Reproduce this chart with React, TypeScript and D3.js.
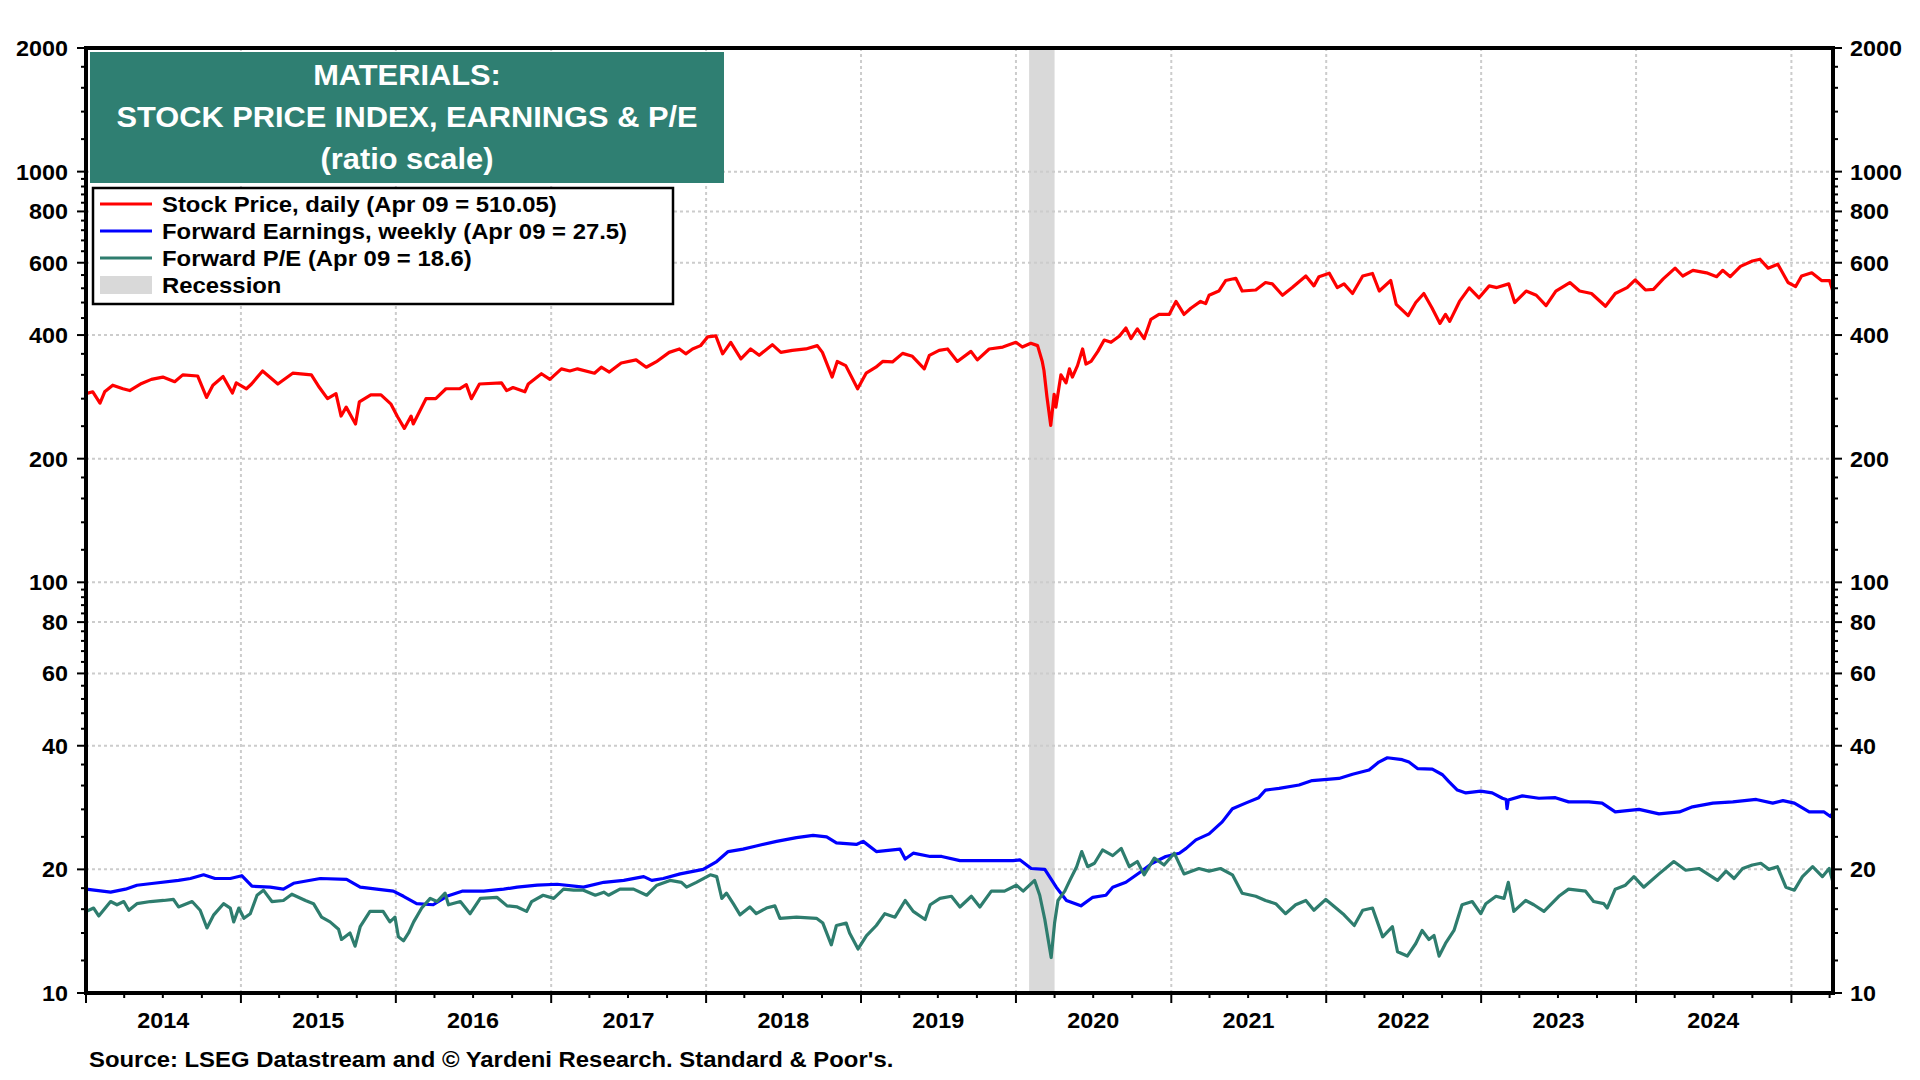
import * as d3 from "d3";
import type { ReactNode } from "react";

const stockPrice: [string, number][] = [
  ["2014-01-01", 288], ["2014-01-17", 291], ["2014-02-03", 273], ["2014-02-14", 291], ["2014-03-05", 302],
  ["2014-03-29", 296], ["2014-04-14", 293], ["2014-05-12", 305], ["2014-06-04", 312], ["2014-07-01", 316],
  ["2014-07-29", 308], ["2014-08-17", 320], ["2014-09-21", 318], ["2014-10-12", 282], ["2014-10-27", 302],
  ["2014-11-20", 317], ["2014-12-12", 289], ["2014-12-21", 306], ["2015-01-14", 296], ["2015-01-26", 304],
  ["2015-02-21", 327], ["2015-03-29", 304], ["2015-05-03", 323], ["2015-06-16", 320], ["2015-07-05", 298],
  ["2015-07-24", 280], ["2015-08-13", 288], ["2015-08-25", 254], ["2015-09-06", 267], ["2015-09-28", 243],
  ["2015-10-07", 275], ["2015-11-03", 286], ["2015-11-27", 286], ["2015-12-20", 272], ["2016-01-05", 253],
  ["2016-01-21", 237], ["2016-02-06", 254], ["2016-02-11", 243], ["2016-03-12", 280], ["2016-04-04", 280],
  ["2016-04-28", 296], ["2016-05-30", 296], ["2016-06-15", 303], ["2016-06-27", 280], ["2016-07-16", 304],
  ["2016-09-06", 306], ["2016-09-18", 293], ["2016-10-03", 298], ["2016-10-31", 291], ["2016-11-08", 304],
  ["2016-12-09", 322], ["2016-12-29", 312], ["2017-01-25", 331], ["2017-02-14", 327], ["2017-03-04", 331],
  ["2017-04-13", 323], ["2017-04-29", 334], ["2017-05-18", 325], ["2017-06-15", 342], ["2017-07-20", 348],
  ["2017-08-13", 334], ["2017-09-05", 344], ["2017-10-06", 363], ["2017-10-30", 370], ["2017-11-14", 360],
  ["2017-11-30", 370], ["2017-12-19", 377], ["2018-01-05", 396], ["2018-01-24", 398], ["2018-02-09", 360],
  ["2018-02-28", 384], ["2018-03-24", 350], ["2018-04-16", 370], ["2018-05-06", 357], ["2018-06-06", 379],
  ["2018-06-26", 363], ["2018-07-23", 367], ["2018-08-24", 370], ["2018-09-20", 377], ["2018-10-02", 363],
  ["2018-10-25", 316], ["2018-11-06", 345], ["2018-11-26", 337], ["2018-12-24", 296], ["2019-01-13", 323],
  ["2019-02-05", 334], ["2019-02-21", 345], ["2019-03-16", 344], ["2019-04-09", 361], ["2019-05-02", 355],
  ["2019-05-30", 331], ["2019-06-11", 357], ["2019-07-04", 367], ["2019-07-24", 370], ["2019-08-16", 345],
  ["2019-09-17", 365], ["2019-10-02", 348], ["2019-10-30", 370], ["2019-12-01", 374], ["2020-01-01", 384],
  ["2020-01-16", 374], ["2020-02-05", 382], ["2020-02-21", 377], ["2020-03-03", 345], ["2020-03-07", 328],
  ["2020-03-14", 283], ["2020-03-23", 241], ["2020-03-31", 287], ["2020-04-04", 267], ["2020-04-16", 320],
  ["2020-04-28", 306], ["2020-05-06", 331], ["2020-05-13", 316], ["2020-05-25", 337], ["2020-06-06", 370],
  ["2020-06-14", 340], ["2020-06-26", 345], ["2020-07-12", 365], ["2020-07-27", 389], ["2020-08-12", 384],
  ["2020-09-01", 398], ["2020-09-16", 416], ["2020-09-28", 392], ["2020-10-13", 414], ["2020-10-29", 392],
  ["2020-11-14", 437], ["2020-12-03", 449], ["2020-12-27", 449], ["2021-01-12", 483], ["2021-01-31", 449],
  ["2021-02-16", 465], ["2021-03-11", 483], ["2021-03-23", 477], ["2021-03-31", 500], ["2021-04-23", 512],
  ["2021-05-09", 543], ["2021-06-02", 550], ["2021-06-17", 512], ["2021-07-19", 515], ["2021-08-11", 537],
  ["2021-08-27", 533], ["2021-09-20", 500], ["2021-10-13", 522], ["2021-11-14", 557], ["2021-12-03", 527],
  ["2021-12-15", 555], ["2022-01-08", 566], ["2022-01-27", 522], ["2022-02-12", 533], ["2022-03-04", 505],
  ["2022-03-28", 557], ["2022-04-20", 565], ["2022-05-06", 512], ["2022-06-02", 543], ["2022-06-15", 475],
  ["2022-07-13", 446], ["2022-07-31", 480], ["2022-08-19", 505], ["2022-09-07", 466], ["2022-09-26", 427],
  ["2022-10-09", 449], ["2022-10-19", 432], ["2022-11-11", 483], ["2022-12-04", 521], ["2022-12-27", 493],
  ["2023-01-20", 527], ["2023-02-07", 522], ["2023-03-07", 533], ["2023-03-21", 480], ["2023-04-17", 512],
  ["2023-05-11", 500], ["2023-06-03", 472], ["2023-06-26", 512], ["2023-07-29", 537], ["2023-08-21", 512],
  ["2023-09-18", 505], ["2023-10-21", 470], ["2023-11-13", 505], ["2023-12-11", 522], ["2023-12-30", 545],
  ["2024-01-23", 515], ["2024-02-11", 517], ["2024-03-05", 548], ["2024-04-02", 582], ["2024-04-20", 557],
  ["2024-05-14", 575], ["2024-06-15", 567], ["2024-07-09", 555], ["2024-07-23", 575], ["2024-08-10", 555],
  ["2024-09-03", 588], ["2024-10-01", 606], ["2024-10-19", 612], ["2024-11-07", 582], ["2024-11-30", 595],
  ["2024-12-24", 537], ["2025-01-11", 525], ["2025-01-25", 557], ["2025-02-18", 567], ["2025-03-13", 543],
  ["2025-04-01", 543], ["2025-04-09", 510.05],
];

const forwardEarnings: [string, number][] = [
  ["2014-01-01", 17.9], ["2014-02-28", 17.6], ["2014-04-04", 17.9], ["2014-05-01", 18.3], ["2014-06-10", 18.5],
  ["2014-08-07", 18.8], ["2014-09-04", 19.0], ["2014-10-05", 19.4], ["2014-11-01", 19.0], ["2014-12-07", 19.0],
  ["2015-01-03", 19.3], ["2015-01-27", 18.2], ["2015-03-11", 18.1], ["2015-04-11", 17.9], ["2015-05-05", 18.5],
  ["2015-07-07", 19.0], ["2015-09-07", 18.9], ["2015-10-09", 18.1], ["2015-11-17", 17.9], ["2015-12-26", 17.7],
  ["2016-01-19", 17.2], ["2016-02-19", 16.5], ["2016-03-29", 16.4], ["2016-04-30", 17.2], ["2016-06-05", 17.7],
  ["2016-07-26", 17.7], ["2016-09-11", 17.9], ["2016-10-13", 18.1], ["2016-11-29", 18.3], ["2017-01-15", 18.4],
  ["2017-03-18", 18.1], ["2017-05-05", 18.6], ["2017-06-21", 18.8], ["2017-08-07", 19.2], ["2017-08-26", 18.8],
  ["2017-09-22", 19.0], ["2017-11-01", 19.5], ["2017-12-25", 20.0], ["2018-01-26", 20.9], ["2018-02-22", 22.1],
  ["2018-03-29", 22.4], ["2018-04-29", 22.8], ["2018-06-16", 23.4], ["2018-08-02", 23.9], ["2018-09-10", 24.2],
  ["2018-10-12", 24.0], ["2018-11-04", 23.2], ["2018-12-21", 23.0], ["2019-01-06", 23.4], ["2019-02-06", 22.1],
  ["2019-04-03", 22.4], ["2019-04-15", 21.2], ["2019-05-04", 21.9], ["2019-06-13", 21.5], ["2019-07-10", 21.5],
  ["2019-08-22", 21.0], ["2019-10-16", 21.0], ["2019-12-25", 21.0], ["2020-01-10", 21.1], ["2020-02-06", 20.1],
  ["2020-03-09", 20.0], ["2020-04-05", 18.1], ["2020-04-29", 16.8], ["2020-06-02", 16.3], ["2020-06-30", 17.1],
  ["2020-07-31", 17.3], ["2020-08-16", 18.1], ["2020-09-16", 18.6], ["2020-10-17", 19.6], ["2020-11-17", 20.7],
  ["2020-12-19", 21.5], ["2021-01-20", 21.9], ["2021-02-05", 22.5], ["2021-02-28", 23.6], ["2021-03-31", 24.4],
  ["2021-05-01", 26.1], ["2021-05-25", 28.1], ["2021-06-25", 29.0], ["2021-07-26", 29.9], ["2021-08-11", 31.2],
  ["2021-09-12", 31.5], ["2021-10-29", 32.1], ["2021-11-29", 32.9], ["2022-01-31", 33.3], ["2022-03-04", 34.1],
  ["2022-04-12", 34.9], ["2022-05-05", 36.5], ["2022-05-25", 37.4], ["2022-06-29", 37.0], ["2022-07-15", 36.5],
  ["2022-08-04", 35.2], ["2022-09-08", 35.1], ["2022-10-02", 34.0], ["2022-10-17", 32.7], ["2022-11-06", 31.2],
  ["2022-11-26", 30.7], ["2022-12-31", 31.0], ["2023-01-27", 30.7], ["2023-02-20", 29.8], ["2023-03-01", 29.6],
  ["2023-03-03", 28.1], ["2023-03-06", 29.5], ["2023-04-08", 30.2], ["2023-05-17", 29.8], ["2023-06-25", 29.9],
  ["2023-07-26", 29.2], ["2023-09-12", 29.2], ["2023-10-13", 29.0], ["2023-11-13", 27.6], ["2024-01-08", 28.0],
  ["2024-02-24", 27.3], ["2024-04-12", 27.6], ["2024-05-13", 28.4], ["2024-06-30", 29.0], ["2024-08-16", 29.2],
  ["2024-10-10", 29.6], ["2024-11-18", 29.0], ["2024-12-12", 29.4], ["2025-01-08", 29.0], ["2025-02-12", 27.6],
  ["2025-03-19", 27.6], ["2025-04-03", 26.9], ["2025-04-09", 27.5],
];

const forwardPE: [string, number][] = [
  ["2014-01-01", 15.8], ["2014-01-19", 16.1], ["2014-01-31", 15.4], ["2014-02-28", 16.7], ["2014-03-15", 16.4],
  ["2014-03-31", 16.7], ["2014-04-12", 15.9], ["2014-05-01", 16.5], ["2014-06-02", 16.7], ["2014-07-03", 16.8],
  ["2014-07-26", 16.9], ["2014-08-07", 16.2], ["2014-09-08", 16.7], ["2014-09-27", 15.9], ["2014-10-13", 14.4],
  ["2014-10-29", 15.5], ["2014-11-21", 16.5], ["2014-12-07", 16.1], ["2014-12-15", 14.9], ["2014-12-27", 16.1],
  ["2015-01-08", 15.2], ["2015-01-23", 15.6], ["2015-02-08", 17.3], ["2015-02-23", 17.8], ["2015-03-15", 16.7],
  ["2015-04-11", 16.8], ["2015-05-01", 17.4], ["2015-06-02", 16.8], ["2015-06-21", 16.5], ["2015-07-10", 15.3],
  ["2015-07-30", 14.9], ["2015-08-19", 14.3], ["2015-08-26", 13.5], ["2015-09-15", 14.0], ["2015-09-27", 13.0],
  ["2015-10-09", 14.5], ["2015-11-01", 15.8], ["2015-12-02", 15.8], ["2015-12-18", 14.9], ["2015-12-30", 15.3],
  ["2016-01-07", 13.7], ["2016-01-19", 13.4], ["2016-01-31", 14.0], ["2016-02-12", 14.9], ["2016-03-02", 16.1],
  ["2016-03-22", 17.0], ["2016-04-07", 16.7], ["2016-04-26", 17.5], ["2016-05-04", 16.4], ["2016-06-01", 16.7],
  ["2016-06-24", 15.6], ["2016-07-18", 17.0], ["2016-08-26", 17.1], ["2016-09-19", 16.3], ["2016-10-13", 16.2],
  ["2016-11-04", 15.8], ["2016-11-16", 16.7], ["2016-12-13", 17.3], ["2017-01-07", 17.0], ["2017-01-30", 17.9],
  ["2017-02-23", 17.8], ["2017-03-18", 17.8], ["2017-04-15", 17.3], ["2017-05-05", 17.6], ["2017-05-16", 17.3],
  ["2017-06-12", 17.9], ["2017-07-14", 17.9], ["2017-08-14", 17.3], ["2017-09-07", 18.3], ["2017-10-08", 18.8],
  ["2017-11-04", 18.6], ["2017-11-16", 18.1], ["2017-12-09", 18.6], ["2018-01-11", 19.4], ["2018-01-26", 19.2],
  ["2018-02-07", 17.0], ["2018-02-18", 17.5], ["2018-03-06", 16.5], ["2018-03-22", 15.5], ["2018-04-14", 16.2],
  ["2018-04-29", 15.6], ["2018-05-23", 16.1], ["2018-06-12", 16.3], ["2018-06-24", 15.2], ["2018-08-02", 15.3],
  ["2018-09-18", 15.2], ["2018-10-03", 14.8], ["2018-10-23", 13.1], ["2018-11-04", 14.6], ["2018-11-27", 14.8],
  ["2018-12-05", 14.0], ["2018-12-25", 12.8], ["2019-01-14", 13.8], ["2019-02-06", 14.6], ["2019-02-26", 15.6],
  ["2019-03-22", 15.3], ["2019-04-15", 16.8], ["2019-05-04", 15.8], ["2019-06-01", 15.1], ["2019-06-13", 16.4],
  ["2019-07-06", 17.0], ["2019-08-02", 17.2], ["2019-08-22", 16.2], ["2019-09-18", 17.2], ["2019-10-08", 16.2],
  ["2019-11-04", 17.7], ["2019-12-05", 17.7], ["2020-01-02", 18.3], ["2020-01-18", 17.7], ["2020-02-14", 18.8],
  ["2020-02-26", 17.3], ["2020-03-09", 15.1], ["2020-03-24", 12.2], ["2020-04-01", 14.8], ["2020-04-09", 16.8],
  ["2020-04-25", 17.7], ["2020-05-07", 18.8], ["2020-05-23", 20.3], ["2020-06-04", 22.1], ["2020-06-18", 20.3],
  ["2020-07-04", 20.7], ["2020-07-23", 22.3], ["2020-08-16", 21.6], ["2020-09-05", 22.5], ["2020-09-24", 20.3],
  ["2020-10-13", 20.9], ["2020-10-29", 19.4], ["2020-11-22", 21.3], ["2020-12-15", 20.5], ["2021-01-08", 21.9],
  ["2021-01-31", 19.5], ["2021-03-07", 20.1], ["2021-03-31", 19.8], ["2021-04-27", 20.1], ["2021-05-25", 19.4],
  ["2021-06-17", 17.5], ["2021-07-19", 17.2], ["2021-08-11", 16.8], ["2021-09-04", 16.5], ["2021-09-27", 15.6],
  ["2021-10-21", 16.4], ["2021-11-14", 16.8], ["2021-12-03", 15.9], ["2021-12-31", 16.9], ["2022-01-24", 16.1],
  ["2022-02-12", 15.5], ["2022-03-08", 14.6], ["2022-03-28", 15.9], ["2022-04-20", 16.1], ["2022-05-14", 13.7],
  ["2022-06-06", 14.5], ["2022-06-18", 12.6], ["2022-07-11", 12.3], ["2022-07-31", 13.2], ["2022-08-15", 14.2],
  ["2022-08-31", 13.5], ["2022-09-12", 13.8], ["2022-09-24", 12.3], ["2022-10-09", 13.2], ["2022-10-29", 14.2],
  ["2022-11-17", 16.4], ["2022-12-11", 16.7], ["2022-12-31", 15.6], ["2023-01-12", 16.5], ["2023-02-05", 17.2],
  ["2023-02-24", 17.0], ["2023-03-06", 18.6], ["2023-03-19", 15.8], ["2023-04-16", 16.8], ["2023-05-05", 16.4],
  ["2023-05-29", 15.8], ["2023-07-03", 17.2], ["2023-07-26", 17.9], ["2023-09-04", 17.7], ["2023-09-23", 16.7],
  ["2023-10-17", 16.5], ["2023-10-25", 16.1], ["2023-11-13", 17.9], ["2023-12-07", 18.3], ["2023-12-27", 19.2],
  ["2024-01-19", 18.1], ["2024-02-24", 19.5], ["2024-03-30", 20.9], ["2024-04-27", 19.9], ["2024-05-28", 20.1],
  ["2024-06-21", 19.4], ["2024-07-11", 18.8], ["2024-07-31", 19.8], ["2024-08-19", 19.0], ["2024-09-08", 20.1],
  ["2024-10-01", 20.5], ["2024-10-21", 20.7], ["2024-11-09", 20.0], ["2024-11-29", 20.3], ["2024-12-19", 18.1],
  ["2025-01-08", 17.8], ["2025-01-27", 19.2], ["2025-02-20", 20.3], ["2025-03-15", 19.2], ["2025-03-31", 20.1],
  ["2025-04-09", 18.6],
];

const recession: [string, string] = ["2020-02-01", "2020-04-01"];
const yearLabels = [2014, 2015, 2016, 2017, 2018, 2019, 2020, 2021, 2022, 2023, 2024];
const yTickLabels = [10, 20, 40, 60, 80, 100, 200, 400, 600, 800, 1000, 2000];
const yGridValues = [20, 40, 60, 80, 100, 200, 400, 600, 800, 1000];

const titleLines = ["MATERIALS:", "STOCK PRICE INDEX, EARNINGS & P/E", "(ratio scale)"];
const legendItems = [
  { label: "Stock Price, daily (Apr 09 = 510.05)", color: "#ff0000", kind: "line" },
  { label: "Forward Earnings, weekly (Apr 09 = 27.5)", color: "#0000ff", kind: "line" },
  { label: "Forward P/E (Apr 09 = 18.6)", color: "#2e7d6e", kind: "line" },
  { label: "Recession", color: "#d9d9d9", kind: "box" },
];
const source = "Source: LSEG Datastream and \u00a9 Yardeni Research. Standard & Poor's.";

const FONT = "'Liberation Sans', Arial, Helvetica, sans-serif";
const WIDTH = 1920;
const HEIGHT = 1080;
const STRETCH = 1.062; // the original type is set a little wider than Arial
const plot = { left: 86, right: 1833, top: 48, bottom: 993 };

const parse = d3.utcParse("%Y-%m-%d");
const x = d3
  .scaleUtc()
  .domain([parse("2014-01-01")!, parse("2025-04-09")!])
  .range([plot.left, plot.right]);
const y = d3.scaleLog().domain([10, 2000]).range([plot.bottom, plot.top]);

function minorYTicks() {
  const out: number[] = [];
  for (const d of [10, 100, 1000]) {
    for (let m = 1.2; m < 2.01; m += 0.2) out.push(+(m * d).toFixed(4));
    for (let m = 2.4; m < 10.01; m += 0.4) out.push(+(m * d).toFixed(4));
  }
  return out.filter((v) => v <= 2000 && !yTickLabels.includes(v));
}

function seriesPath(rows: [string, number][]) {
  const line = d3
    .line<[string, number]>()
    .x((r) => x(parse(r[0])!))
    .y((r) => y(r[1]));
  return line(rows) ?? "";
}

type LabelProps = {
  x: number;
  y: number;
  anchor?: "start" | "middle" | "end";
  size: number;
  fill?: string;
  dy?: string;
  children: ReactNode;
};

function Label({ x: lx, y: ly, anchor = "start", size, fill = "#000", dy, children }: LabelProps) {
  return (
    <text
      transform={`translate(${lx},${ly}) scale(${STRETCH},1)`}
      textAnchor={anchor}
      fontSize={size}
      fontWeight="bold"
      fill={fill}
      dy={dy}
    >
      {children}
    </text>
  );
}

export default function App() {
  const quarters = d3.utcMonth.every(3)!.range(parse("2014-01-01")!, parse("2025-04-10")!);
  const years = d3.utcYear.range(parse("2015-01-01")!, parse("2025-04-10")!);
  const minor = minorYTicks();
  const recX0 = x(parse(recession[0])!);
  const recX1 = x(parse(recession[1])!);

  return (
    <svg
      width={WIDTH}
      height={HEIGHT}
      viewBox={`0 0 ${WIDTH} ${HEIGHT}`}
      style={{ position: "absolute", left: 0, top: 0, background: "#fff", fontFamily: FONT }}
    >
      <rect x={0} y={0} width={WIDTH} height={HEIGHT} fill="#fff" />

      <rect x={recX0} y={plot.top} width={recX1 - recX0} height={plot.bottom - plot.top} fill="#d9d9d9" />

      {/* grid */}
      <g stroke="#cccccc" strokeWidth={2} strokeDasharray="3 3" fill="none">
        {yGridValues.map((v) => (
          <line key={`gy${v}`} x1={plot.left} x2={plot.right} y1={y(v)} y2={y(v)} />
        ))}
        {years.map((d) => (
          <line key={`gx${d.getTime()}`} x1={x(d)} x2={x(d)} y1={plot.top} y2={plot.bottom} />
        ))}
      </g>

      {/* series */}
      <g fill="none" strokeWidth={3.2} strokeLinejoin="round">
        <path d={seriesPath(stockPrice)} stroke="#ff0000" />
        <path d={seriesPath(forwardEarnings)} stroke="#0000ff" />
        <path d={seriesPath(forwardPE)} stroke="#2e7d6e" />
      </g>

      {/* axes */}
      <g stroke="#000" strokeWidth={2}>
        {minor.map((v) => (
          <g key={`my${v}`}>
            <line x1={plot.left - 5} x2={plot.left} y1={y(v)} y2={y(v)} />
            <line x1={plot.right} x2={plot.right + 5} y1={y(v)} y2={y(v)} />
          </g>
        ))}
        {yTickLabels.map((v) => (
          <g key={`ty${v}`}>
            <line x1={plot.left - 9} x2={plot.left} y1={y(v)} y2={y(v)} />
            <line x1={plot.right} x2={plot.right + 9} y1={y(v)} y2={y(v)} />
          </g>
        ))}
        {quarters.map((d) => {
          const major = d.getUTCMonth() === 0;
          return (
            <line
              key={`tx${d.getTime()}`}
              x1={x(d)}
              x2={x(d)}
              y1={plot.bottom}
              y2={plot.bottom + (major ? 10 : 5)}
            />
          );
        })}
      </g>
      {yTickLabels.map((v) => (
        <g key={`ly${v}`}>
          <Label x={plot.left - 18} y={y(v)} dy="0.36em" anchor="end" size={22}>
            {v}
          </Label>
          <Label x={plot.right + 17} y={y(v)} dy="0.36em" size={22}>
            {v}
          </Label>
        </g>
      ))}
      {yearLabels.map((yr) => (
        <Label key={`lx${yr}`} x={x(d3.utcDay.offset(parse(`${yr}-01-01`)!, 182))} y={1028} anchor="middle" size={22}>
          {yr}
        </Label>
      ))}

      {/* title box */}
      <rect x={90} y={52} width={634} height={131} fill="#2f7f72" />
      {titleLines.map((t, i) => (
        <Label key={t} x={407} y={85 + i * 42} anchor="middle" size={29} fill="#fff">
          {t}
        </Label>
      ))}

      {/* legend */}
      <rect x={93} y={188} width={580} height={116} fill="#fff" stroke="#000" strokeWidth={2.5} />
      {legendItems.map((item, i) => {
        const cy = 204 + i * 27;
        return (
          <g key={item.label}>
            {item.kind === "line" ? (
              <line x1={100} x2={152} y1={cy} y2={cy} stroke={item.color} strokeWidth={3} />
            ) : (
              <rect x={100} y={cy - 9} width={52} height={18} fill={item.color} />
            )}
            <Label x={162} y={cy} dy="0.36em" size={22.5}>
              {item.label}
            </Label>
          </g>
        );
      })}

      {/* frame */}
      <rect
        x={plot.left}
        y={plot.top}
        width={plot.right - plot.left}
        height={plot.bottom - plot.top}
        fill="none"
        stroke="#000"
        strokeWidth={4}
      />

      <Label x={89} y={1067} size={22.5}>
        {source}
      </Label>
    </svg>
  );
}
